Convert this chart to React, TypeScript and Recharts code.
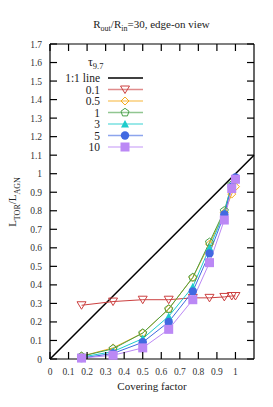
import React from 'react';
import { LineChart, Line, XAxis, YAxis, ReferenceLine, Legend } from 'recharts';

const coveringFactor = [0.17, 0.34, 0.5, 0.64, 0.77, 0.86, 0.94, 0.98, 1.0];
const tau01 = [0.29, 0.31, 0.32, 0.32, 0.33, 0.33, 0.335, 0.34, 0.34];
const tau05 = [0.015, 0.06, 0.14, 0.27, 0.44, 0.62, 0.79, 0.89, 0.93];
const tau1 = [0.015, 0.055, 0.14, 0.27, 0.44, 0.63, 0.8, 0.94, 0.97];
const tau3 = [0.01, 0.04, 0.11, 0.23, 0.39, 0.6, 0.79, 0.94, 0.98];
const tau5 = [0.005, 0.03, 0.09, 0.2, 0.365, 0.57, 0.78, 0.93, 0.98];
const tau10 = [0.005, 0.02, 0.06, 0.16, 0.32, 0.52, 0.75, 0.92, 0.97];

const xTicks = [0, 0.1, 0.2, 0.3, 0.4, 0.5, 0.6, 0.7, 0.8, 0.9, 1];
const yTicks = [0, 0.1, 0.2, 0.3, 0.4, 0.5, 0.6, 0.7, 0.8, 0.9, 1, 1.1, 1.2, 1.3, 1.4, 1.5, 1.6, 1.7];

type Shape = 'triDown' | 'diamond' | 'pentagon' | 'triUp' | 'circle' | 'square';

const series: { key: string; name: string; values: number[]; color: string; shape: Shape }[] = [
  { key: 't01', name: '0.1', values: tau01, color: '#cc4040', shape: 'triDown' },
  { key: 't05', name: '0.5', values: tau05, color: '#f5ac20', shape: 'diamond' },
  { key: 't1', name: '1', values: tau1, color: '#48a048', shape: 'pentagon' },
  { key: 't3', name: '3', values: tau3, color: '#1ecccc', shape: 'triUp' },
  { key: 't5', name: '5', values: tau5, color: '#4169e1', shape: 'circle' },
  { key: 't10', name: '10', values: tau10, color: '#bb88f5', shape: 'square' },
];

const rows = coveringFactor.map((cf, i) => {
  const row: Record<string, number> = { cf };
  series.forEach((s) => {
    row[s.key] = s.values[i];
  });
  return row;
});

const FONT = '"Liberation Serif", "DejaVu Serif", serif';
const TICK = 7;

const fmt = (v: number) => String(Number(v.toFixed(1)));

const Marker = ({ cx, cy, shape, color }: { cx: number; cy: number; shape: Shape; color: string }) => {
  if (cx == null || cy == null) return null;
  switch (shape) {
    case 'triDown':
      return <polygon points={`${cx - 4.5},${cy - 3.5} ${cx + 4.5},${cy - 3.5} ${cx},${cy + 4}`} fill="none" stroke={color} strokeWidth={1} />;
    case 'diamond':
      return <polygon points={`${cx},${cy - 4} ${cx + 4},${cy} ${cx},${cy + 4} ${cx - 4},${cy}`} fill="none" stroke={color} strokeWidth={1} />;
    case 'pentagon': {
      const pts = [0, 1, 2, 3, 4]
        .map((k) => {
          const a = -Math.PI / 2 + (k * 2 * Math.PI) / 5;
          return `${cx + 4.2 * Math.cos(a)},${cy + 4.2 * Math.sin(a)}`;
        })
        .join(' ');
      return <polygon points={pts} fill="none" stroke={color} strokeWidth={1} />;
    }
    case 'triUp':
      return <polygon points={`${cx - 4},${cy + 3.5} ${cx + 4},${cy + 3.5} ${cx},${cy - 4}`} fill={color} />;
    case 'circle':
      return <circle cx={cx} cy={cy} r={4.2} fill={color} />;
    case 'square':
      return <rect x={cx - 4.5} y={cy - 4.5} width={9} height={9} fill={color} />;
  }
  return null;
};

const BottomTick = (props: any) => {
  const { x, y, payload } = props;
  return (
    <g>
      <line x1={x} y1={y} x2={x} y2={y - TICK} stroke="#000" strokeWidth={1.2} />
      <text x={x} y={y + 16} textAnchor="middle" fontSize={9.5} fontFamily={FONT} fill="#333">
        {fmt(payload.value)}
      </text>
    </g>
  );
};

const TopTick = (props: any) => {
  const { x, y } = props;
  return <line x1={x} y1={y} x2={x} y2={y + TICK} stroke="#000" strokeWidth={1.2} />;
};

const LeftTick = (props: any) => {
  const { x, y, payload } = props;
  return (
    <g>
      <line x1={x} y1={y} x2={x + TICK} y2={y} stroke="#000" strokeWidth={1.2} />
      <text x={x - 8} y={y + 3.5} textAnchor="end" fontSize={9.5} fontFamily={FONT} fill="#333">
        {fmt(payload.value)}
      </text>
    </g>
  );
};

const RightTick = (props: any) => {
  const { x, y } = props;
  return <line x1={x} y1={y} x2={x - TICK} y2={y} stroke="#000" strokeWidth={1.2} />;
};

const LegendBox = () => (
  <svg width={100} height={105} style={{ display: 'block', overflow: 'visible' }}>
    <text x={33} y={14} fontSize={12} fontFamily={FONT} fill="#222">
      τ<tspan fontSize={8.5} dy={3}>9.7</tspan>
    </text>
    <text x={45} y={30} textAnchor="end" fontSize={11.5} fontFamily={FONT} fill="#222">1:1 line</text>
    <line x1={53} y1={26} x2={88} y2={26} stroke="#000" strokeWidth={1.5} />
    {series.map((s, i) => {
      const cy = 37.5 + i * 11.5;
      return (
        <g key={s.key}>
          <text x={45} y={cy + 4} textAnchor="end" fontSize={11.5} fontFamily={FONT} fill="#222">{s.name}</text>
          <line x1={53} y1={cy} x2={88} y2={cy} stroke={s.color} strokeOpacity={0.6} strokeWidth={1.6} />
          <Marker cx={70} cy={cy} shape={s.shape} color={s.color} />
        </g>
      );
    })}
  </svg>
);

const App: React.FC = () => {
  return (
    <div style={{ position: 'absolute', left: 0, top: 0, width: 273, height: 407, background: '#fff', fontFamily: FONT }}>
      <div style={{ position: 'absolute', left: 0, width: 273, top: 18, textAlign: 'center', fontSize: 11, color: '#222', paddingLeft: 30, boxSizing: 'border-box' }}>
        R<sub style={{ fontSize: 8 }}>out</sub>/R<sub style={{ fontSize: 8 }}>in</sub>=30, edge-on view
      </div>
      <div style={{ position: 'absolute', left: 0, width: 273, top: 380, textAlign: 'center', fontSize: 11, color: '#222', paddingLeft: 31, boxSizing: 'border-box' }}>
        Covering factor
      </div>
      <div style={{ position: 'absolute', left: 14, top: 202, transform: 'translate(-50%, -50%) rotate(-90deg)', whiteSpace: 'nowrap', fontSize: 11, color: '#222' }}>
        L<sub style={{ fontSize: 8 }}>TOR</sub>/L<sub style={{ fontSize: 8 }}>AGN</sub>
      </div>
      <LineChart width={273} height={407} data={rows} margin={{ top: 0, right: 0, bottom: 0, left: 0 }} style={{ position: 'absolute', left: 0, top: 0 }}>
        <XAxis dataKey="cf" type="number" domain={[0, 1.1]} ticks={xTicks} height={48} tickSize={0} tickMargin={0} tick={BottomTick} axisLine={{ stroke: '#000', strokeWidth: 1.2 }} interval={0} />
        <XAxis xAxisId="top" dataKey="cf" orientation="top" type="number" domain={[0, 1.1]} allowDataOverflow ticks={xTicks} height={44} tickSize={0} tickMargin={0} tick={TopTick} axisLine={{ stroke: '#000', strokeWidth: 1.2 }} interval={0} />
        <YAxis type="number" domain={[0, 1.7]} ticks={yTicks} width={50} tickSize={0} tickMargin={0} tick={LeftTick} axisLine={{ stroke: '#000', strokeWidth: 1.2 }} interval={0} />
        <YAxis yAxisId="right" orientation="right" type="number" domain={[0, 1.7]} allowDataOverflow ticks={yTicks} width={19} tickSize={0} tickMargin={0} tick={RightTick} axisLine={{ stroke: '#000', strokeWidth: 1.2 }} interval={0} />
        <ReferenceLine segment={[{ x: 0, y: 0 }, { x: 1.1, y: 1.1 }]} stroke="#000" strokeWidth={1.5} ifOverflow="visible" />
        {series.map((s) => (
          <Line
            key={s.key}
            dataKey={s.key}
            type="linear"
            stroke={s.color}
            strokeWidth={1}
            isAnimationActive={false}
            dot={(p: any) => <Marker key={`${s.key}-${p.index}`} cx={p.cx} cy={p.cy} shape={s.shape} color={s.color} />}
            activeDot={false}
          />
        ))}
        <Legend
          layout="vertical"
          align="center"
          verticalAlign="middle"
          wrapperStyle={{ position: 'absolute', left: 55, top: 52, width: 100, height: 105 }}
          content={() => <LegendBox />}
        />
      </LineChart>
    </div>
  );
};

export default App;
